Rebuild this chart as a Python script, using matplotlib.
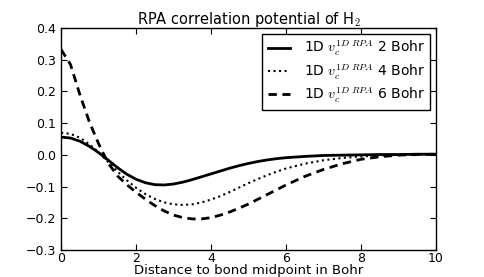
import matplotlib
matplotlib.use("Agg")
import matplotlib.pyplot as plt

x = [0, 0.25, 0.5, 0.75, 1.0, 1.25, 1.5, 1.75, 2.0, 2.25, 2.5, 2.75, 3.0,
     3.25, 3.5, 3.75, 4.0, 4.25, 4.5, 4.75, 5.0, 5.25, 5.5, 5.75, 6.0,
     6.5, 7.0, 7.5, 8.0, 8.5, 9.0, 9.5, 10.0]
v_2bohr = [0.056, 0.053, 0.043, 0.027, 0.007, -0.016, -0.040, -0.061, -0.077,
           -0.088, -0.094, -0.095, -0.092, -0.086, -0.078, -0.069, -0.060,
           -0.051, -0.042, -0.034, -0.027, -0.021, -0.016, -0.012, -0.009,
           -0.005, -0.002, -0.001, 0.000, 0.001, 0.001, 0.002, 0.002]
v_4bohr = [0.070, 0.066, 0.054, 0.034, 0.008, -0.022, -0.052, -0.080, -0.104,
           -0.124, -0.139, -0.150, -0.156, -0.158, -0.156, -0.150, -0.141,
           -0.130, -0.117, -0.103, -0.089, -0.076, -0.064, -0.053, -0.043,
           -0.028, -0.017, -0.010, -0.005, -0.002, 0.000, 0.001, 0.002]
v_6bohr = [0.332, 0.285, 0.190, 0.105, 0.035, -0.025, -0.066, -0.094, -0.118,
           -0.140, -0.160, -0.177, -0.190, -0.198, -0.202, -0.202, -0.198,
           -0.190, -0.180, -0.168, -0.155, -0.140, -0.125, -0.110, -0.095,
           -0.068, -0.046, -0.028, -0.014, -0.006, -0.001, 0.001, 0.002]
labels = [r'1D $v_c^{1D\ RPA}$ 2 Bohr', r'1D $v_c^{1D\ RPA}$ 4 Bohr',
          r'1D $v_c^{1D\ RPA}$ 6 Bohr']
yticks = [-0.3, -0.2, -0.1, 0.0, 0.1, 0.2, 0.3, 0.4]
ytick_labels = ['\u22120.3', '\u22120.2', '\u22120.1', '0.0', '0.1', '0.2',
                '0.3', '0.4']
xticks = [0, 2, 4, 6, 8, 10]

plt.rcParams['mathtext.fontset'] = 'cm'
fig = plt.figure(figsize=(4.85, 2.77), dpi=100)
ax = fig.add_axes([0.126, 0.0975, 0.773, 0.8015])
ax.plot(x, v_2bohr, 'k-', lw=2, label=labels[0])
ax.plot(x, v_4bohr, 'k:', lw=1.5, label=labels[1])
ax.plot(x, v_6bohr, 'k--', lw=2, label=labels[2], dashes=(3, 2))
ax.set_xlim(0, 10)
ax.set_ylim(-0.3, 0.4)
ax.set_xticks(xticks)
ax.set_yticks(yticks)
ax.set_yticklabels(ytick_labels)
ax.tick_params(direction='in', top=True, right=True, labelsize=9, length=4)
ax.tick_params(axis='x', pad=1.5)
for s in ax.spines.values():
    s.set_linewidth(1)
ax.set_title(r'RPA correlation potential of H$_2$', fontsize=10.5, pad=3)
ax.set_xlabel('Distance to bond midpoint in Bohr', fontsize=9.5, labelpad=-1)
leg = ax.legend(loc='upper right', fontsize=10, fancybox=False, framealpha=1,
                edgecolor='k', handlelength=1.6, handletextpad=1.0,
                labelspacing=0.3, borderaxespad=0.4, borderpad=0.4)
leg.get_frame().set_linewidth(1)
fig.savefig('out.png', dpi=100)
